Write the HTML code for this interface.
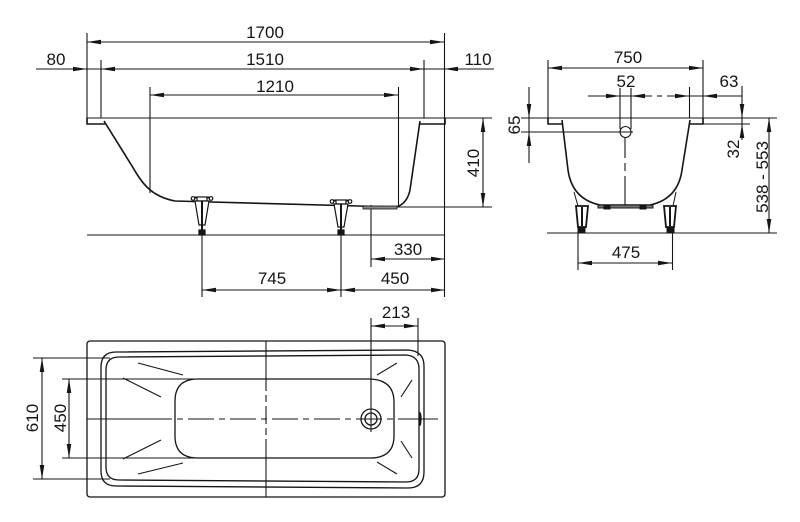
<!DOCTYPE html>
<html><head><meta charset="utf-8"><style>
html,body{margin:0;padding:0;background:#fff;}
svg{display:block;}
text{font-family:"Liberation Sans",Arial,sans-serif;font-size:17px;fill:#151515;}
</style></head><body>
<svg width="800" height="522" viewBox="0 0 800 522" xmlns="http://www.w3.org/2000/svg">
<defs>
<path id="ar" d="M0,0 L14,-2.3 L14,2.3 Z" fill="#151515"/>
</defs>
<rect width="800" height="522" fill="#fff"/>

<!-- ================= SIDE VIEW ================= -->
<g stroke="#151515" stroke-width="1.1" fill="none">
  <line x1="87" y1="42" x2="444" y2="42"/>
  <line x1="36" y1="69" x2="494" y2="69"/>
  <line x1="150" y1="95" x2="398" y2="95"/>
  <line x1="483" y1="118" x2="483" y2="207"/>
  <line x1="371" y1="259" x2="445" y2="259"/>
  <line x1="202" y1="290" x2="445" y2="290"/>
  <line x1="87" y1="33" x2="87" y2="124"/>
  <line x1="101" y1="60" x2="101" y2="118"/>
  <line x1="150" y1="87" x2="150" y2="193"/>
  <line x1="398.5" y1="87" x2="398.5" y2="207"/>
  <line x1="424" y1="60" x2="424" y2="118"/>
  <line x1="444.5" y1="33" x2="444.5" y2="297"/>
  <line x1="87" y1="118" x2="492" y2="118"/>
  <line x1="396" y1="207" x2="492" y2="207"/>
  <line x1="371" y1="205" x2="371" y2="267"/>
  <line x1="202" y1="235" x2="202" y2="297"/>
  <line x1="341" y1="235" x2="341" y2="297"/>
  <line x1="87" y1="235" x2="445" y2="235"/>
</g>
<g stroke="#151515" stroke-width="1.6" fill="none" stroke-linejoin="round">
  <path d="M87,118 V124 H105"/>
  <path d="M420,124 H445 V118"/>
  <path d="M104,121 L132,166 C141,181 149,196 175,201 L396,207 Q407,204 410,190 L420,121"/>
</g>
<rect x="363" y="206" width="34" height="3" fill="#888" stroke="#151515" stroke-width="0.8"/>
<g stroke="#151515" fill="#fff" stroke-width="1.2">
  <line x1="193" y1="197.5" x2="211" y2="197.5" stroke-width="2"/>
  <circle cx="193" cy="198.5" r="1.8"/><circle cx="211" cy="198.5" r="1.8"/>
  <rect x="197" y="197" width="10" height="4"/>
  <polygon points="195,201 209,201 205,225 199,225"/>
  <line x1="202" y1="201" x2="202" y2="235" stroke-width="2"/>
  <rect x="199" y="230" width="6" height="5" fill="#151515"/>

  <line x1="332" y1="200.5" x2="350" y2="200.5" stroke-width="2"/>
  <circle cx="332" cy="201.5" r="1.8"/><circle cx="350" cy="201.5" r="1.8"/>
  <rect x="336" y="200" width="10" height="4"/>
  <polygon points="334,204 348,204 344,227 338,227"/>
  <line x1="341" y1="204" x2="341" y2="235" stroke-width="2"/>
  <rect x="338" y="230" width="6" height="5" fill="#151515"/>
</g>
<use href="#ar" transform="translate(87,42)"/>
<use href="#ar" transform="translate(444,42) rotate(180)"/>
<use href="#ar" transform="translate(87,69) rotate(180)"/>
<use href="#ar" transform="translate(101,69)"/>
<use href="#ar" transform="translate(424,69) rotate(180)"/>
<use href="#ar" transform="translate(444,69)"/>
<use href="#ar" transform="translate(150,95)"/>
<use href="#ar" transform="translate(398,95) rotate(180)"/>
<use href="#ar" transform="translate(483,118) rotate(90)"/>
<use href="#ar" transform="translate(483,207) rotate(-90)"/>
<use href="#ar" transform="translate(371,259)"/>
<use href="#ar" transform="translate(445,259) rotate(180)"/>
<use href="#ar" transform="translate(202,290)"/>
<use href="#ar" transform="translate(341,290) rotate(180)"/>
<use href="#ar" transform="translate(341,290)"/>
<use href="#ar" transform="translate(445,290) rotate(180)"/>
<text x="265" y="38" text-anchor="middle">1700</text>
<text x="56" y="65" text-anchor="middle">80</text>
<text x="265" y="65" text-anchor="middle">1510</text>
<text x="478" y="65" text-anchor="middle">110</text>
<text x="275" y="92" text-anchor="middle">1210</text>
<text transform="translate(473,163) rotate(-90)" x="0" y="6" text-anchor="middle">410</text>
<text x="408" y="255" text-anchor="middle">330</text>
<text x="272" y="284" text-anchor="middle">745</text>
<text x="395" y="284" text-anchor="middle">450</text>

<!-- ================= END VIEW ================= -->
<g stroke="#151515" stroke-width="1.1" fill="none">
  <line x1="548" y1="68" x2="703" y2="68"/>
  <line x1="548" y1="60" x2="548" y2="124"/>
  <line x1="703" y1="60" x2="703" y2="124"/>
  <line x1="521" y1="118" x2="777" y2="118"/>
  <line x1="690" y1="124" x2="750" y2="124"/>
  <line x1="521" y1="132" x2="633" y2="132"/>
  <line x1="588" y1="96" x2="652" y2="96"/>
  <line x1="657" y1="96" x2="662" y2="96"/>
  <line x1="667" y1="96" x2="742" y2="96"/>
  <line x1="689.5" y1="87" x2="689.5" y2="118"/>
  <line x1="620" y1="88" x2="620" y2="129"/>
  <line x1="631" y1="88" x2="631" y2="129"/>
  <line x1="529" y1="87" x2="529" y2="163"/>
  <line x1="742" y1="86" x2="742" y2="140"/>
  <line x1="769" y1="118" x2="769" y2="233"/>
  <line x1="547" y1="233" x2="777" y2="233"/>
  <line x1="578" y1="233" x2="578" y2="270"/>
  <line x1="672.5" y1="233" x2="672.5" y2="270"/>
  <line x1="578" y1="263" x2="672" y2="263"/>
  <line x1="625" y1="138" x2="625" y2="158"/>
  <line x1="625" y1="163" x2="625" y2="171"/>
  <line x1="625" y1="176" x2="625" y2="205"/>
  <circle cx="625.5" cy="132" r="5.5"/>
</g>
<g stroke="#151515" stroke-width="1.6" fill="none" stroke-linejoin="round">
  <path d="M548,118 V124 H562"/>
  <path d="M690,124 H703 V118"/>
  <path d="M562,120 L568,170 Q572,199 600,205 L650,205 Q678,199 682,170 L690,120"/>
</g>
<g stroke="#151515" stroke-width="1" fill="#fff">
  <rect x="598" y="205" width="55" height="3" fill="#777"/>
  <rect x="604" y="206" width="6" height="3" fill="#151515"/>
  <rect x="640" y="206" width="6" height="3" fill="#151515"/>
  <line x1="574" y1="192" x2="578" y2="206"/>
  <line x1="676" y1="192" x2="673" y2="206"/>
  <polygon points="576,206 588,206 586,227 578,227" stroke-width="1.8"/>
  <line x1="582" y1="207" x2="582" y2="226" stroke-width="2"/>
  <rect x="578" y="227" width="7" height="6" fill="#151515"/>
  <polygon points="664,206 676,206 674,227 666,227" stroke-width="1.8"/>
  <line x1="670" y1="207" x2="670" y2="226" stroke-width="2"/>
  <rect x="667" y="227" width="7" height="6" fill="#151515"/>
</g>
<use href="#ar" transform="translate(548,68)"/>
<use href="#ar" transform="translate(703,68) rotate(180)"/>
<use href="#ar" transform="translate(620,96) rotate(180)"/>
<use href="#ar" transform="translate(631,96)"/>
<use href="#ar" transform="translate(689,96) rotate(180)"/>
<use href="#ar" transform="translate(703,96)"/>
<use href="#ar" transform="translate(529,118) rotate(-90)"/>
<use href="#ar" transform="translate(529,132) rotate(90)"/>
<use href="#ar" transform="translate(742,118) rotate(-90)"/>
<use href="#ar" transform="translate(742,124) rotate(90)"/>
<use href="#ar" transform="translate(769,118) rotate(90)"/>
<use href="#ar" transform="translate(769,233) rotate(-90)"/>
<use href="#ar" transform="translate(578,263)"/>
<use href="#ar" transform="translate(672,263) rotate(180)"/>
<text x="628" y="63" text-anchor="middle">750</text>
<text x="626" y="87" text-anchor="middle">52</text>
<text x="729" y="87" text-anchor="middle">63</text>
<text transform="translate(514,125) rotate(-90)" x="0" y="6" text-anchor="middle">65</text>
<text transform="translate(733,149) rotate(-90)" x="0" y="6" text-anchor="middle">32</text>
<text transform="translate(762,177) rotate(-90)" x="0" y="6" text-anchor="middle">538 - 553</text>
<text x="626" y="258" text-anchor="middle">475</text>

<!-- ================= PLAN VIEW ================= -->
<g stroke="#151515" stroke-width="1.3" fill="none" stroke-linejoin="round">
  <rect x="87" y="341" width="358" height="156" rx="3"/>
  <path d="M116,352 L408,350 Q424,351 424,366 L424,472 Q424,488 408,488 L116,486 Q101,486 101,471 L101,367 Q101,352 116,352 Z"/>
  <path d="M119,357 L406,355 Q419,356 419,369 L419,469 Q419,482 406,482 L119,480 Q106,480 106,467 L106,370 Q106,357 119,357 Z"/>
  <path d="M198,379 L370,379 Q394,380 394,402 L394,436 Q394,458 370,458 L198,458 Q175,458 175,436 L175,401 Q175,379 198,379 Z"/>
  <circle cx="371" cy="419" r="10"/>
  <circle cx="371" cy="419" r="6"/>
</g>
<g stroke="#151515" stroke-width="1.1" fill="none">
  <line x1="266" y1="341" x2="266" y2="497" stroke-dasharray="50,4,7,4,18,4,7,4,60"/>
  <line x1="87" y1="419" x2="445" y2="419" stroke-dasharray="85,5,6,5,26,5,6,5,26,5,6,5,26,5,6,5,26,5,6,5,26,5,6,5,40"/>
  <line x1="33" y1="358" x2="110" y2="358"/>
  <line x1="33" y1="479" x2="110" y2="479"/>
  <line x1="62" y1="379" x2="198" y2="379"/>
  <line x1="62" y1="458" x2="198" y2="458"/>
  <line x1="42" y1="358" x2="42" y2="479"/>
  <line x1="69" y1="379" x2="69" y2="458"/>
  <line x1="371" y1="318" x2="371" y2="432"/>
  <line x1="418" y1="318" x2="418" y2="356"/>
  <line x1="371" y1="326" x2="418" y2="326"/>
  <line x1="138" y1="363" x2="183" y2="375"/>
  <line x1="123" y1="378" x2="161" y2="397"/>
  <line x1="123" y1="459" x2="161" y2="440"/>
  <line x1="138" y1="474" x2="183" y2="463"/>
  <line x1="377" y1="375" x2="397" y2="363"/>
  <line x1="401" y1="397" x2="412" y2="380"/>
  <line x1="401" y1="441" x2="412" y2="458"/>
  <line x1="377" y1="462" x2="397" y2="474"/>
</g>
<ellipse cx="420" cy="419" rx="1.6" ry="7" fill="#151515"/>
<use href="#ar" transform="translate(42,358) rotate(90)"/>
<use href="#ar" transform="translate(42,479) rotate(-90)"/>
<use href="#ar" transform="translate(69,379) rotate(90)"/>
<use href="#ar" transform="translate(69,458) rotate(-90)"/>
<use href="#ar" transform="translate(371,326)"/>
<use href="#ar" transform="translate(418,326) rotate(180)"/>
<text transform="translate(32,418) rotate(-90)" x="0" y="6" text-anchor="middle">610</text>
<text transform="translate(60,418) rotate(-90)" x="0" y="6" text-anchor="middle">450</text>
<text x="396" y="318" text-anchor="middle">213</text>
</svg>
</body></html>
